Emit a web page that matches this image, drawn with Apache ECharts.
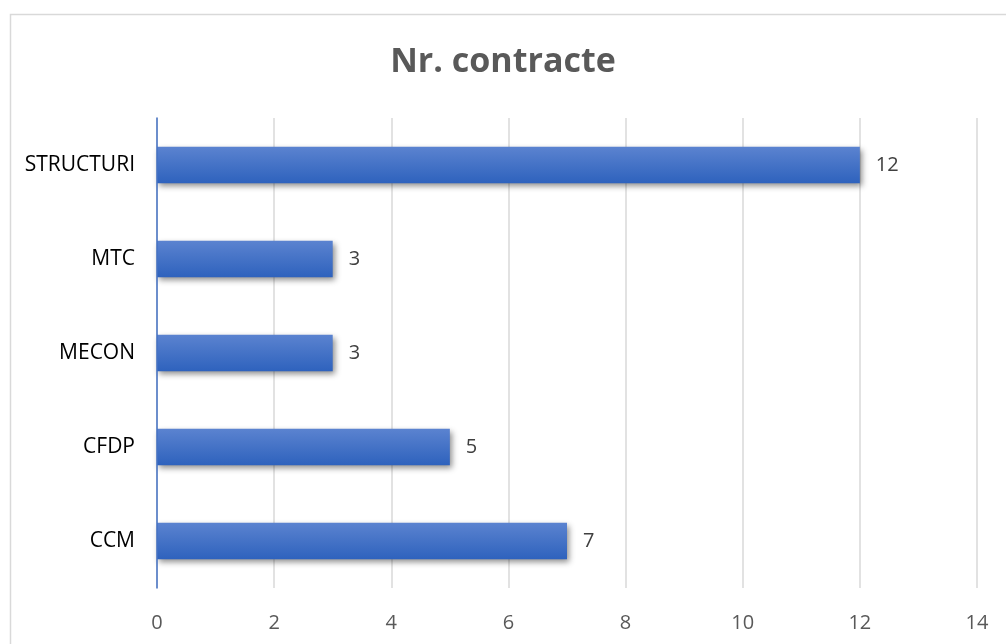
<!DOCTYPE html>
<html>
<head>
<meta charset="utf-8">
<script src="https://cdn.jsdelivr.net/npm/echarts@6/dist/echarts.min.js"></script>
<style>
html, body { margin: 0; padding: 0; background: #fff; }
#chart { width: 1006px; height: 644px; }
</style>
</head>
<body>
<div id="chart"></div>
<script>
var categories = ['CCM', 'CFDP', 'MECON', 'MTC', 'STRUCTURI'];
var values = [7, 5, 3, 3, 12];
var xTicks = [0, 2, 4, 6, 8, 10, 12, 14];

var myChart = echarts.init(document.getElementById('chart'));

var option = {
    backgroundColor: '#fff',
    textStyle: { fontFamily: 'Open Sans' },
    graphic: [{
        type: 'rect',
        left: 8, top: 12,
        shape: { width: 1010, height: 650 },
        style: { fill: 'none', stroke: '#d9d9d9', lineWidth: 1.5 },
        silent: true
    }],
    title: {
        text: 'Nr. contracte',
        left: 'center',
        top: 40,
        textStyle: { fontSize: 34, fontWeight: 'bold', color: '#595959', fontFamily: 'Open Sans' }
    },
    grid: { left: 157, right: 29, top: 118, bottom: 56, containLabel: false },
    xAxis: {
        type: 'value',
        min: xTicks[0],
        max: xTicks[xTicks.length - 1],
        interval: 2,
        axisLine: { show: false },
        axisTick: { show: false },
        axisLabel: { color: '#595959', fontSize: 20, margin: 25 },
        splitLine: { lineStyle: { color: '#d9d9d9', width: 1.5 } }
    },
    yAxis: {
        type: 'category',
        data: categories,
        z: 5,
        axisLine: { show: true, lineStyle: { color: '#4472c4', width: 1.5 } },
        axisTick: { show: false },
        axisLabel: { color: '#000', fontSize: 21, margin: 22 }
    },
    series: [{
        type: 'bar',
        data: values,
        barWidth: '39%',
        label: { show: true, position: 'right', distance: 16, color: '#404040', fontSize: 20 },
        itemStyle: {
            color: new echarts.graphic.LinearGradient(0, 0, 0, 1, [
                { offset: 0, color: '#5b83d0' },
                { offset: 1, color: '#2e62bd' }
            ]),
            shadowColor: 'rgba(0,0,0,0.45)',
            shadowBlur: 6,
            shadowOffsetX: 2,
            shadowOffsetY: 3
        }
    }]
};

myChart.setOption(option);
</script>
</body>
</html>
